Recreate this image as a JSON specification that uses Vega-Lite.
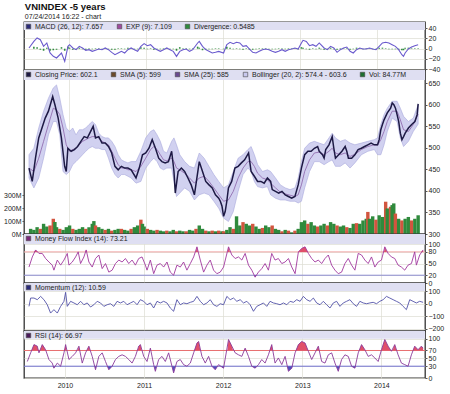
{
"$schema":"https://vega.github.io/schema/vega-lite/v6.json",
"background":"white",
"padding":{"left":2,"top":1,"right":2,"bottom":2},
"title":{"text":"VNINDEX -5 years","subtitle":"07/24/2014 16:22 -  chart","anchor":"start","dx":22,"font":"Liberation Sans","fontSize":9.5,"fontWeight":"bold","color":"#111","subtitleFont":"Liberation Sans","subtitleFontSize":7,"subtitleColor":"#222","subtitlePadding":2,"offset":1},
"spacing":0,
"bounds":"flush",
"resolve":{"scale":{"color":"independent"},"legend":{"color":"independent"}},
"config":{
 "font":"Liberation Sans",
 "view":{"stroke":"#333","strokeWidth":1.3,"fill":"#fdfde8"},
 "axis":{"labelFont":"Liberation Sans","labelFontSize":7,"labelColor":"#222","tickColor":"#555","tickSize":2,"labelPadding":1,"domain":false,"gridColor":"#dcdcd2","gridWidth":0.7},
 "axisX":{"grid":true,"labels":false,"ticks":false,"tickCount":5,"format":"d"},
 "axisY":{"grid":true},
 "legend":{"orient":"top-left","direction":"horizontal","offset":1,"padding":0,"labelFont":"Liberation Sans","labelFontSize":7,"labelColor":"#222","symbolType":"square","symbolSize":20,"symbolStrokeColor":"#444","symbolStrokeWidth":0.6,"columnPadding":12,"labelOffset":3,"labelLimit":300}
},
"datasets":{
"macd":[{"t":2009.483,"m":1.4,"d":0},{"t":2009.546,"m":14.4,"d":4},{"t":2009.588,"m":21,"d":3},{"t":2009.63,"m":17.7,"d":-2},{"t":2009.672,"m":4.6,"d":-4},{"t":2009.714,"m":11.2,"d":2},{"t":2009.756,"m":-8.4,"d":-4},{"t":2009.798,"m":-15,"d":-3},{"t":2009.84,"m":-18.2,"d":-2},{"t":2009.904,"m":-8.4,"d":3},{"t":2009.946,"m":-24.8,"d":-4},{"t":2009.988,"m":4.6,"d":4},{"t":2010.009,"m":7.9,"d":2},{"t":2010.051,"m":1.4,"d":-2},{"t":2010.093,"m":-1.9,"d":-1},{"t":2010.135,"m":4.6,"d":2},{"t":2010.177,"m":1.4,"d":-1},{"t":2010.219,"m":-3.2,"d":-2},{"t":2010.261,"m":-1.9,"d":1},{"t":2010.303,"m":-5.2,"d":-1},{"t":2010.345,"m":-3.2,"d":1},{"t":2010.387,"m":-0.6,"d":1},{"t":2010.429,"m":-1.9,"d":-1},{"t":2010.471,"m":1.4,"d":1},{"t":2010.513,"m":-1.9,"d":-1},{"t":2010.555,"m":-7.1,"d":-2},{"t":2010.597,"m":-11.7,"d":-2},{"t":2010.639,"m":-8.4,"d":1},{"t":2010.681,"m":-5.2,"d":1},{"t":2010.723,"m":-8.4,"d":-1},{"t":2010.765,"m":-1.9,"d":2},{"t":2010.807,"m":1.4,"d":1},{"t":2010.849,"m":-1.9,"d":-1},{"t":2010.891,"m":-5.2,"d":-1},{"t":2010.933,"m":4.6,"d":3},{"t":2010.975,"m":9.9,"d":2},{"t":2011.017,"m":5.9,"d":-1},{"t":2011.059,"m":7.9,"d":1},{"t":2011.101,"m":1.4,"d":-2},{"t":2011.143,"m":-1.9,"d":-1},{"t":2011.185,"m":-5.2,"d":-1},{"t":2011.227,"m":-1.9,"d":1},{"t":2011.269,"m":1.4,"d":1},{"t":2011.311,"m":-1.9,"d":-1},{"t":2011.353,"m":-5.2,"d":-1},{"t":2011.395,"m":-15,"d":-4},{"t":2011.437,"m":-5.2,"d":3},{"t":2011.479,"m":-1.9,"d":1},{"t":2011.521,"m":-0.6,"d":1},{"t":2011.564,"m":-5.2,"d":-1},{"t":2011.606,"m":-1.9,"d":1},{"t":2011.669,"m":11.2,"d":4},{"t":2011.69,"m":14.4,"d":2},{"t":2011.732,"m":4.6,"d":-3},{"t":2011.774,"m":-1.9,"d":-2},{"t":2011.816,"m":-5.2,"d":-1},{"t":2011.858,"m":-8.4,"d":-1},{"t":2011.9,"m":-7.1,"d":1},{"t":2011.942,"m":-5.2,"d":1},{"t":2012.005,"m":-8.4,"d":-1},{"t":2012.047,"m":7.9,"d":4},{"t":2012.089,"m":12.5,"d":2},{"t":2012.131,"m":9.9,"d":-1},{"t":2012.173,"m":12.5,"d":1},{"t":2012.215,"m":11.2,"d":-1},{"t":2012.257,"m":4.6,"d":-2},{"t":2012.299,"m":5.9,"d":1},{"t":2012.341,"m":-0.6,"d":-2},{"t":2012.383,"m":-7.1,"d":-2},{"t":2012.425,"m":-8.4,"d":-1},{"t":2012.467,"m":-5.2,"d":1},{"t":2012.509,"m":-1.9,"d":1},{"t":2012.551,"m":-0.6,"d":1},{"t":2012.593,"m":-1.9,"d":-1},{"t":2012.635,"m":-5.2,"d":-1},{"t":2012.677,"m":-7.1,"d":-1},{"t":2012.719,"m":-5.2,"d":1},{"t":2012.762,"m":-1.9,"d":1},{"t":2012.804,"m":-5.2,"d":-1},{"t":2012.846,"m":-1.9,"d":1},{"t":2012.888,"m":-0.6,"d":1},{"t":2012.93,"m":1.4,"d":1},{"t":2012.972,"m":-0.6,"d":-1},{"t":2013.014,"m":11.2,"d":3},{"t":2013.035,"m":16.4,"d":2},{"t":2013.077,"m":14.4,"d":-1},{"t":2013.119,"m":5.9,"d":-2},{"t":2013.161,"m":7.9,"d":1},{"t":2013.203,"m":4.6,"d":-1},{"t":2013.245,"m":11.2,"d":2},{"t":2013.266,"m":7.9,"d":-1},{"t":2013.308,"m":1.4,"d":-2},{"t":2013.35,"m":-1.9,"d":-1},{"t":2013.392,"m":4.6,"d":2},{"t":2013.434,"m":1.4,"d":-1},{"t":2013.476,"m":-7.1,"d":-2},{"t":2013.518,"m":-1.9,"d":1},{"t":2013.56,"m":1.4,"d":1},{"t":2013.602,"m":3.3,"d":1},{"t":2013.644,"m":-5.2,"d":-2},{"t":2013.686,"m":-8.4,"d":-1},{"t":2013.728,"m":-1.9,"d":2},{"t":2013.77,"m":1.4,"d":1},{"t":2013.812,"m":-0.6,"d":-1},{"t":2013.854,"m":-0.6,"d":1},{"t":2013.896,"m":1.4,"d":1},{"t":2013.938,"m":-0.6,"d":-1},{"t":2013.98,"m":-1.9,"d":-1},{"t":2014.022,"m":4.6,"d":2},{"t":2014.064,"m":11.2,"d":2},{"t":2014.106,"m":12.5,"d":1},{"t":2014.148,"m":11.2,"d":-1},{"t":2014.19,"m":7.9,"d":-1},{"t":2014.232,"m":4.6,"d":-1},{"t":2014.274,"m":-1.9,"d":-2},{"t":2014.316,"m":-11.7,"d":-3},{"t":2014.337,"m":-15,"d":-3},{"t":2014.358,"m":-8.4,"d":2},{"t":2014.4,"m":-0.6,"d":2},{"t":2014.442,"m":3.3,"d":1},{"t":2014.484,"m":5.9,"d":1},{"t":2014.527,"m":7.7,"d":1}],
"px":[{"t":2009.483,"c":453},{"t":2009.525,"c":422},{"t":2009.567,"c":476},{"t":2009.609,"c":523},{"t":2009.651,"c":546},{"t":2009.693,"c":569},{"t":2009.735,"c":585},{"t":2009.79,"c":619},{"t":2009.819,"c":600},{"t":2009.861,"c":569},{"t":2009.903,"c":523},{"t":2009.945,"c":457},{"t":2009.966,"c":445},{"t":2009.987,"c":499},{"t":2010.029,"c":492},{"t":2010.071,"c":496},{"t":2010.113,"c":503},{"t":2010.156,"c":515},{"t":2010.198,"c":526},{"t":2010.24,"c":523},{"t":2010.282,"c":538},{"t":2010.315,"c":550},{"t":2010.345,"c":523},{"t":2010.387,"c":526},{"t":2010.429,"c":511},{"t":2010.471,"c":511},{"t":2010.513,"c":503},{"t":2010.555,"c":488},{"t":2010.597,"c":457},{"t":2010.639,"c":449},{"t":2010.681,"c":457},{"t":2010.723,"c":453},{"t":2010.765,"c":453},{"t":2010.807,"c":449},{"t":2010.87,"c":430},{"t":2010.912,"c":453},{"t":2010.954,"c":484},{"t":2010.996,"c":488},{"t":2011.038,"c":499},{"t":2011.08,"c":519},{"t":2011.122,"c":499},{"t":2011.164,"c":476},{"t":2011.206,"c":468},{"t":2011.248,"c":465},{"t":2011.29,"c":468},{"t":2011.332,"c":492},{"t":2011.362,"c":445},{"t":2011.379,"c":395},{"t":2011.416,"c":445},{"t":2011.458,"c":453},{"t":2011.5,"c":445},{"t":2011.543,"c":430},{"t":2011.585,"c":414},{"t":2011.627,"c":391},{"t":2011.69,"c":468},{"t":2011.732,"c":445},{"t":2011.774,"c":422},{"t":2011.816,"c":414},{"t":2011.858,"c":407},{"t":2011.9,"c":391},{"t":2011.942,"c":383},{"t":2011.963,"c":376},{"t":2011.984,"c":365},{"t":2012.005,"c":341},{"t":2012.026,"c":352},{"t":2012.047,"c":376},{"t":2012.068,"c":407},{"t":2012.11,"c":422},{"t":2012.152,"c":453},{"t":2012.194,"c":457},{"t":2012.236,"c":465},{"t":2012.278,"c":472},{"t":2012.329,"c":488},{"t":2012.362,"c":445},{"t":2012.404,"c":434},{"t":2012.446,"c":422},{"t":2012.488,"c":422},{"t":2012.531,"c":418},{"t":2012.573,"c":430},{"t":2012.615,"c":422},{"t":2012.636,"c":403},{"t":2012.678,"c":399},{"t":2012.72,"c":395},{"t":2012.762,"c":399},{"t":2012.804,"c":391},{"t":2012.846,"c":387},{"t":2012.888,"c":383},{"t":2012.93,"c":387},{"t":2012.972,"c":414},{"t":2013.014,"c":453},{"t":2013.056,"c":484},{"t":2013.098,"c":492},{"t":2013.14,"c":492},{"t":2013.182,"c":499},{"t":2013.224,"c":503},{"t":2013.245,"c":492},{"t":2013.287,"c":484},{"t":2013.308,"c":476},{"t":2013.329,"c":496},{"t":2013.371,"c":507},{"t":2013.413,"c":526},{"t":2013.434,"c":499},{"t":2013.455,"c":476},{"t":2013.497,"c":484},{"t":2013.539,"c":492},{"t":2013.581,"c":503},{"t":2013.602,"c":492},{"t":2013.623,"c":476},{"t":2013.665,"c":476},{"t":2013.707,"c":484},{"t":2013.749,"c":496},{"t":2013.791,"c":499},{"t":2013.833,"c":503},{"t":2013.875,"c":507},{"t":2013.917,"c":511},{"t":2013.959,"c":507},{"t":2014.001,"c":507},{"t":2014.022,"c":519},{"t":2014.043,"c":542},{"t":2014.064,"c":554},{"t":2014.085,"c":565},{"t":2014.127,"c":581},{"t":2014.17,"c":592},{"t":2014.191,"c":604},{"t":2014.212,"c":600},{"t":2014.233,"c":592},{"t":2014.254,"c":577},{"t":2014.275,"c":561},{"t":2014.296,"c":534},{"t":2014.317,"c":519},{"t":2014.338,"c":526},{"t":2014.359,"c":534},{"t":2014.401,"c":546},{"t":2014.443,"c":554},{"t":2014.485,"c":561},{"t":2014.514,"c":577},{"t":2014.527,"c":602}],
"bb":[{"t":2009.483,"u":484,"l":430,"s":453},{"t":2009.546,"u":499,"l":407,"s":445},{"t":2009.609,"u":546,"l":430,"s":476},{"t":2009.672,"u":585,"l":476,"s":515},{"t":2009.735,"u":615,"l":530,"s":554},{"t":2009.798,"u":639,"l":561,"s":592},{"t":2009.84,"u":646,"l":561,"s":588},{"t":2009.882,"u":615,"l":530,"s":577},{"t":2009.924,"u":577,"l":445,"s":546},{"t":2009.966,"u":546,"l":438,"s":507},{"t":2010.008,"u":538,"l":445,"s":492},{"t":2010.05,"u":546,"l":461,"s":496},{"t":2010.092,"u":530,"l":468,"s":499},{"t":2010.135,"u":542,"l":476,"s":507},{"t":2010.177,"u":542,"l":484,"s":515},{"t":2010.219,"u":546,"l":492,"s":519},{"t":2010.261,"u":554,"l":499,"s":523},{"t":2010.303,"u":561,"l":503,"s":526},{"t":2010.345,"u":554,"l":499,"s":526},{"t":2010.387,"u":534,"l":499,"s":523},{"t":2010.429,"u":526,"l":496,"s":515},{"t":2010.471,"u":523,"l":496,"s":511},{"t":2010.513,"u":523,"l":476,"s":507},{"t":2010.555,"u":515,"l":453,"s":492},{"t":2010.597,"u":503,"l":438,"s":476},{"t":2010.639,"u":484,"l":430,"s":461},{"t":2010.681,"u":472,"l":438,"s":453},{"t":2010.723,"u":468,"l":438,"s":453},{"t":2010.765,"u":465,"l":434,"s":449},{"t":2010.807,"u":468,"l":430,"s":449},{"t":2010.87,"u":468,"l":418,"s":445},{"t":2010.933,"u":492,"l":422,"s":457},{"t":2010.996,"u":523,"l":453,"s":476},{"t":2011.059,"u":538,"l":468,"s":496},{"t":2011.101,"u":542,"l":476,"s":503},{"t":2011.143,"u":530,"l":468,"s":496},{"t":2011.185,"u":515,"l":453,"s":484},{"t":2011.227,"u":492,"l":449,"s":472},{"t":2011.269,"u":488,"l":453,"s":470},{"t":2011.332,"u":515,"l":453,"s":476},{"t":2011.362,"u":523,"l":422,"s":468},{"t":2011.395,"u":507,"l":387,"s":453},{"t":2011.437,"u":484,"l":395,"s":449},{"t":2011.5,"u":468,"l":407,"s":441},{"t":2011.564,"u":457,"l":399,"s":430},{"t":2011.627,"u":453,"l":379,"s":418},{"t":2011.69,"u":488,"l":391,"s":430},{"t":2011.753,"u":476,"l":395,"s":434},{"t":2011.816,"u":457,"l":391,"s":422},{"t":2011.879,"u":438,"l":376,"s":407},{"t":2011.942,"u":422,"l":360,"s":391},{"t":2012.005,"u":407,"l":337,"s":376},{"t":2012.068,"u":414,"l":329,"s":379},{"t":2012.131,"u":445,"l":352,"s":399},{"t":2012.194,"u":476,"l":399,"s":430},{"t":2012.257,"u":484,"l":438,"s":453},{"t":2012.32,"u":496,"l":453,"s":468},{"t":2012.362,"u":503,"l":445,"s":468},{"t":2012.404,"u":484,"l":422,"s":457},{"t":2012.446,"u":461,"l":410,"s":441},{"t":2012.509,"u":445,"l":407,"s":430},{"t":2012.573,"u":449,"l":410,"s":426},{"t":2012.615,"u":445,"l":391,"s":418},{"t":2012.678,"u":430,"l":383,"s":407},{"t":2012.741,"u":414,"l":379,"s":397},{"t":2012.804,"u":407,"l":379,"s":393},{"t":2012.867,"u":403,"l":376,"s":390},{"t":2012.93,"u":407,"l":376,"s":387},{"t":2012.972,"u":430,"l":372,"s":391},{"t":2013.014,"u":468,"l":376,"s":414},{"t":2013.056,"u":499,"l":407,"s":445},{"t":2013.119,"u":511,"l":445,"s":472},{"t":2013.182,"u":515,"l":468,"s":488},{"t":2013.245,"u":511,"l":468,"s":490},{"t":2013.308,"u":507,"l":461,"s":484},{"t":2013.371,"u":523,"l":468,"s":492},{"t":2013.413,"u":534,"l":472,"s":499},{"t":2013.455,"u":523,"l":457,"s":488},{"t":2013.518,"u":515,"l":457,"s":484},{"t":2013.581,"u":519,"l":465,"s":488},{"t":2013.644,"u":511,"l":453,"s":480},{"t":2013.707,"u":507,"l":465,"s":485},{"t":2013.791,"u":511,"l":484,"s":496},{"t":2013.875,"u":515,"l":492,"s":503},{"t":2013.959,"u":519,"l":496,"s":507},{"t":2014.001,"u":523,"l":484,"s":506},{"t":2014.043,"u":554,"l":484,"s":519},{"t":2014.085,"u":577,"l":507,"s":538},{"t":2014.127,"u":592,"l":538,"s":561},{"t":2014.191,"u":608,"l":569,"s":585},{"t":2014.254,"u":608,"l":561,"s":585},{"t":2014.296,"u":592,"l":523,"s":565},{"t":2014.338,"u":573,"l":503,"s":542},{"t":2014.401,"u":561,"l":515,"s":538},{"t":2014.464,"u":569,"l":538,"s":554},{"t":2014.527,"u":600,"l":555,"s":578}],
"vol":[{"t":2009.504,"v":40,"k":"u"},{"t":2009.546,"v":32,"k":"u"},{"t":2009.588,"v":53,"k":"u"},{"t":2009.63,"v":40,"k":"d"},{"t":2009.672,"v":79,"k":"u"},{"t":2009.714,"v":58,"k":"u"},{"t":2009.756,"v":66,"k":"d"},{"t":2009.798,"v":118,"k":"d"},{"t":2009.819,"v":92,"k":"u"},{"t":2009.84,"v":53,"k":"u"},{"t":2009.882,"v":40,"k":"d"},{"t":2009.925,"v":32,"k":"u"},{"t":2009.967,"v":53,"k":"u"},{"t":2010.009,"v":66,"k":"u"},{"t":2010.051,"v":40,"k":"d"},{"t":2010.093,"v":32,"k":"u"},{"t":2010.135,"v":40,"k":"u"},{"t":2010.177,"v":53,"k":"u"},{"t":2010.219,"v":40,"k":"d"},{"t":2010.261,"v":53,"k":"u"},{"t":2010.303,"v":79,"k":"u"},{"t":2010.324,"v":100,"k":"u"},{"t":2010.345,"v":66,"k":"d"},{"t":2010.387,"v":53,"k":"u"},{"t":2010.429,"v":40,"k":"u"},{"t":2010.471,"v":32,"k":"d"},{"t":2010.513,"v":40,"k":"u"},{"t":2010.555,"v":26,"k":"d"},{"t":2010.597,"v":32,"k":"u"},{"t":2010.639,"v":40,"k":"u"},{"t":2010.681,"v":40,"k":"d"},{"t":2010.723,"v":32,"k":"u"},{"t":2010.765,"v":26,"k":"u"},{"t":2010.807,"v":40,"k":"d"},{"t":2010.849,"v":53,"k":"u"},{"t":2010.891,"v":66,"k":"u"},{"t":2010.933,"v":111,"k":"d"},{"t":2010.954,"v":79,"k":"u"},{"t":2010.975,"v":58,"k":"u"},{"t":2011.017,"v":40,"k":"d"},{"t":2011.059,"v":32,"k":"u"},{"t":2011.101,"v":26,"k":"u"},{"t":2011.143,"v":32,"k":"d"},{"t":2011.185,"v":26,"k":"u"},{"t":2011.227,"v":21,"k":"u"},{"t":2011.269,"v":26,"k":"d"},{"t":2011.311,"v":21,"k":"u"},{"t":2011.353,"v":32,"k":"u"},{"t":2011.395,"v":21,"k":"d"},{"t":2011.437,"v":26,"k":"u"},{"t":2011.479,"v":21,"k":"u"},{"t":2011.521,"v":21,"k":"d"},{"t":2011.564,"v":32,"k":"u"},{"t":2011.606,"v":26,"k":"u"},{"t":2011.648,"v":40,"k":"d"},{"t":2011.69,"v":66,"k":"u"},{"t":2011.732,"v":40,"k":"u"},{"t":2011.774,"v":26,"k":"d"},{"t":2011.816,"v":21,"k":"u"},{"t":2011.858,"v":26,"k":"d"},{"t":2011.9,"v":21,"k":"u"},{"t":2011.942,"v":26,"k":"d"},{"t":2011.984,"v":21,"k":"u"},{"t":2012.005,"v":21,"k":"d"},{"t":2012.047,"v":32,"k":"u"},{"t":2012.089,"v":53,"k":"u"},{"t":2012.131,"v":40,"k":"d"},{"t":2012.173,"v":137,"k":"u"},{"t":2012.215,"v":66,"k":"u"},{"t":2012.257,"v":92,"k":"d"},{"t":2012.299,"v":79,"k":"u"},{"t":2012.341,"v":66,"k":"u"},{"t":2012.383,"v":79,"k":"d"},{"t":2012.425,"v":58,"k":"u"},{"t":2012.467,"v":40,"k":"u"},{"t":2012.509,"v":47,"k":"d"},{"t":2012.551,"v":66,"k":"u"},{"t":2012.593,"v":53,"k":"u"},{"t":2012.635,"v":66,"k":"d"},{"t":2012.677,"v":40,"k":"u"},{"t":2012.719,"v":32,"k":"u"},{"t":2012.762,"v":21,"k":"d"},{"t":2012.804,"v":32,"k":"u"},{"t":2012.846,"v":26,"k":"d"},{"t":2012.888,"v":13,"k":"u"},{"t":2012.93,"v":26,"k":"d"},{"t":2012.972,"v":40,"k":"u"},{"t":2013.014,"v":92,"k":"u"},{"t":2013.056,"v":105,"k":"u"},{"t":2013.098,"v":79,"k":"d"},{"t":2013.14,"v":92,"k":"u"},{"t":2013.182,"v":66,"k":"u"},{"t":2013.224,"v":58,"k":"d"},{"t":2013.266,"v":66,"k":"u"},{"t":2013.308,"v":79,"k":"u"},{"t":2013.35,"v":66,"k":"d"},{"t":2013.392,"v":92,"k":"u"},{"t":2013.434,"v":79,"k":"u"},{"t":2013.476,"v":66,"k":"d"},{"t":2013.518,"v":58,"k":"u"},{"t":2013.56,"v":66,"k":"u"},{"t":2013.602,"v":53,"k":"d"},{"t":2013.644,"v":47,"k":"u"},{"t":2013.686,"v":79,"k":"u"},{"t":2013.728,"v":84,"k":"d"},{"t":2013.77,"v":79,"k":"u"},{"t":2013.812,"v":105,"k":"u"},{"t":2013.854,"v":118,"k":"u"},{"t":2013.875,"v":171,"k":"d"},{"t":2013.896,"v":118,"k":"u"},{"t":2013.938,"v":137,"k":"u"},{"t":2013.98,"v":111,"k":"d"},{"t":2014.022,"v":145,"k":"u"},{"t":2014.064,"v":132,"k":"u"},{"t":2014.106,"v":250,"k":"d"},{"t":2014.127,"v":198,"k":"u"},{"t":2014.148,"v":145,"k":"u"},{"t":2014.169,"v":211,"k":"d"},{"t":2014.19,"v":224,"k":"u"},{"t":2014.211,"v":237,"k":"u"},{"t":2014.232,"v":158,"k":"d"},{"t":2014.274,"v":118,"k":"u"},{"t":2014.316,"v":105,"k":"d"},{"t":2014.358,"v":118,"k":"u"},{"t":2014.4,"v":132,"k":"u"},{"t":2014.442,"v":105,"k":"d"},{"t":2014.484,"v":118,"k":"u"},{"t":2014.527,"v":145,"k":"u"}],
"mfi":[{"t":2009.546,"v":41},{"t":2009.588,"v":67},{"t":2009.63,"v":85},{"t":2009.672,"v":76},{"t":2009.714,"v":76},{"t":2009.756,"v":63},{"t":2009.798,"v":54},{"t":2009.84,"v":46},{"t":2009.861,"v":33},{"t":2009.904,"v":59},{"t":2009.946,"v":46},{"t":2009.988,"v":59},{"t":2010.03,"v":76},{"t":2010.051,"v":46},{"t":2010.093,"v":54},{"t":2010.135,"v":67},{"t":2010.168,"v":80},{"t":2010.198,"v":50},{"t":2010.24,"v":67},{"t":2010.269,"v":85},{"t":2010.303,"v":54},{"t":2010.345,"v":41},{"t":2010.387,"v":63},{"t":2010.429,"v":72},{"t":2010.471,"v":37},{"t":2010.513,"v":50},{"t":2010.555,"v":28},{"t":2010.597,"v":33},{"t":2010.639,"v":50},{"t":2010.681,"v":59},{"t":2010.723,"v":54},{"t":2010.765,"v":63},{"t":2010.807,"v":50},{"t":2010.849,"v":59},{"t":2010.891,"v":46},{"t":2010.933,"v":63},{"t":2010.975,"v":67},{"t":2011.017,"v":46},{"t":2011.038,"v":33},{"t":2011.08,"v":59},{"t":2011.122,"v":24},{"t":2011.164,"v":46},{"t":2011.206,"v":50},{"t":2011.248,"v":41},{"t":2011.29,"v":54},{"t":2011.332,"v":28},{"t":2011.374,"v":20},{"t":2011.416,"v":46},{"t":2011.458,"v":41},{"t":2011.5,"v":54},{"t":2011.542,"v":33},{"t":2011.585,"v":50},{"t":2011.627,"v":67},{"t":2011.669,"v":93},{"t":2011.711,"v":59},{"t":2011.753,"v":28},{"t":2011.795,"v":46},{"t":2011.837,"v":59},{"t":2011.879,"v":33},{"t":2011.921,"v":24},{"t":2011.963,"v":28},{"t":2012.005,"v":41},{"t":2012.068,"v":93},{"t":2012.11,"v":72},{"t":2012.152,"v":63},{"t":2012.194,"v":67},{"t":2012.236,"v":59},{"t":2012.278,"v":76},{"t":2012.32,"v":46},{"t":2012.362,"v":33},{"t":2012.404,"v":15},{"t":2012.446,"v":28},{"t":2012.488,"v":37},{"t":2012.53,"v":50},{"t":2012.572,"v":33},{"t":2012.614,"v":76},{"t":2012.656,"v":59},{"t":2012.698,"v":63},{"t":2012.741,"v":50},{"t":2012.783,"v":54},{"t":2012.825,"v":63},{"t":2012.867,"v":41},{"t":2012.909,"v":24},{"t":2012.951,"v":80},{"t":2012.993,"v":89},{"t":2013.035,"v":93},{"t":2013.077,"v":76},{"t":2013.119,"v":63},{"t":2013.161,"v":54},{"t":2013.203,"v":59},{"t":2013.245,"v":50},{"t":2013.287,"v":63},{"t":2013.329,"v":72},{"t":2013.371,"v":46},{"t":2013.413,"v":33},{"t":2013.455,"v":24},{"t":2013.497,"v":28},{"t":2013.539,"v":50},{"t":2013.581,"v":63},{"t":2013.623,"v":46},{"t":2013.665,"v":33},{"t":2013.707,"v":76},{"t":2013.749,"v":72},{"t":2013.791,"v":59},{"t":2013.833,"v":50},{"t":2013.875,"v":67},{"t":2013.917,"v":41},{"t":2013.959,"v":54},{"t":2014.001,"v":59},{"t":2014.043,"v":93},{"t":2014.085,"v":76},{"t":2014.127,"v":67},{"t":2014.169,"v":63},{"t":2014.211,"v":46},{"t":2014.253,"v":41},{"t":2014.295,"v":33},{"t":2014.337,"v":46},{"t":2014.379,"v":50},{"t":2014.421,"v":80},{"t":2014.442,"v":46},{"t":2014.484,"v":72},{"t":2014.527,"v":85}],
"mfHi":[{"t":2009.608,"v":80,"g":1},{"t":2009.63,"v":85,"g":1},{"t":2009.655,"v":80,"g":1},{"t":2010.257,"v":80,"g":2},{"t":2010.269,"v":85,"g":2},{"t":2010.275,"v":80,"g":2},{"t":2011.653,"v":80,"g":3},{"t":2011.669,"v":93,"g":3},{"t":2011.683,"v":80,"g":3},{"t":2012.058,"v":80,"g":4},{"t":2012.068,"v":93,"g":4},{"t":2012.085,"v":80,"g":4},{"t":2012.951,"v":80,"g":5},{"t":2012.993,"v":89,"g":5},{"t":2013.035,"v":93,"g":5},{"t":2013.07,"v":80,"g":5},{"t":2014.033,"v":80,"g":6},{"t":2014.043,"v":93,"g":6},{"t":2014.07,"v":80,"g":6},{"t":2014.505,"v":80,"g":7},{"t":2014.527,"v":85,"g":7}],
"mfLo":[{"t":2012.39,"v":20,"g":1},{"t":2012.404,"v":15,"g":1},{"t":2012.42,"v":20,"g":1}],
"mom":[{"t":2009.546,"v":-21},{"t":2009.567,"v":45},{"t":2009.609,"v":45},{"t":2009.651,"v":32},{"t":2009.693,"v":58},{"t":2009.735,"v":32},{"t":2009.777,"v":-8},{"t":2009.819,"v":-74},{"t":2009.861,"v":-47},{"t":2009.904,"v":-74},{"t":2009.946,"v":-21},{"t":2009.988,"v":19},{"t":2010.009,"v":90},{"t":2010.03,"v":-21},{"t":2010.072,"v":19},{"t":2010.114,"v":6},{"t":2010.156,"v":-8},{"t":2010.198,"v":19},{"t":2010.24,"v":-8},{"t":2010.282,"v":6},{"t":2010.324,"v":-26},{"t":2010.366,"v":-8},{"t":2010.408,"v":19},{"t":2010.45,"v":6},{"t":2010.492,"v":-21},{"t":2010.534,"v":-8},{"t":2010.576,"v":0},{"t":2010.618,"v":-21},{"t":2010.66,"v":19},{"t":2010.702,"v":6},{"t":2010.744,"v":19},{"t":2010.786,"v":-8},{"t":2010.828,"v":6},{"t":2010.87,"v":19},{"t":2010.912,"v":-8},{"t":2010.954,"v":32},{"t":2010.996,"v":19},{"t":2011.038,"v":-8},{"t":2011.08,"v":6},{"t":2011.122,"v":-34},{"t":2011.164,"v":19},{"t":2011.206,"v":6},{"t":2011.248,"v":19},{"t":2011.29,"v":6},{"t":2011.332,"v":-34},{"t":2011.374,"v":-60},{"t":2011.416,"v":32},{"t":2011.458,"v":-8},{"t":2011.5,"v":6},{"t":2011.542,"v":0},{"t":2011.585,"v":11},{"t":2011.627,"v":19},{"t":2011.669,"v":58},{"t":2011.711,"v":19},{"t":2011.753,"v":-8},{"t":2011.795,"v":6},{"t":2011.837,"v":32},{"t":2011.879,"v":-8},{"t":2011.921,"v":-21},{"t":2011.963,"v":0},{"t":2012.005,"v":-8},{"t":2012.047,"v":58},{"t":2012.089,"v":32},{"t":2012.131,"v":45},{"t":2012.173,"v":19},{"t":2012.215,"v":32},{"t":2012.257,"v":6},{"t":2012.299,"v":19},{"t":2012.341,"v":-8},{"t":2012.383,"v":-60},{"t":2012.425,"v":-21},{"t":2012.467,"v":-8},{"t":2012.509,"v":6},{"t":2012.551,"v":-21},{"t":2012.593,"v":19},{"t":2012.635,"v":6},{"t":2012.677,"v":0},{"t":2012.719,"v":-8},{"t":2012.762,"v":6},{"t":2012.804,"v":-8},{"t":2012.846,"v":19},{"t":2012.888,"v":11},{"t":2012.93,"v":32},{"t":2012.972,"v":19},{"t":2013.014,"v":58},{"t":2013.056,"v":32},{"t":2013.098,"v":19},{"t":2013.14,"v":45},{"t":2013.182,"v":6},{"t":2013.224,"v":-8},{"t":2013.266,"v":19},{"t":2013.308,"v":-8},{"t":2013.35,"v":-34},{"t":2013.392,"v":6},{"t":2013.434,"v":19},{"t":2013.476,"v":-21},{"t":2013.518,"v":6},{"t":2013.56,"v":19},{"t":2013.602,"v":32},{"t":2013.644,"v":0},{"t":2013.686,"v":-21},{"t":2013.728,"v":19},{"t":2013.77,"v":6},{"t":2013.812,"v":0},{"t":2013.854,"v":6},{"t":2013.896,"v":11},{"t":2013.938,"v":0},{"t":2013.98,"v":19},{"t":2014.022,"v":32},{"t":2014.064,"v":58},{"t":2014.106,"v":45},{"t":2014.148,"v":32},{"t":2014.19,"v":19},{"t":2014.232,"v":6},{"t":2014.274,"v":-21},{"t":2014.316,"v":-47},{"t":2014.358,"v":32},{"t":2014.4,"v":19},{"t":2014.442,"v":6},{"t":2014.484,"v":19},{"t":2014.527,"v":11}],
"rsi":[{"t":2009.525,"v":42},{"t":2009.567,"v":64},{"t":2009.609,"v":85},{"t":2009.651,"v":81},{"t":2009.672,"v":64},{"t":2009.714,"v":85},{"t":2009.756,"v":72},{"t":2009.798,"v":47},{"t":2009.84,"v":38},{"t":2009.861,"v":25},{"t":2009.904,"v":38},{"t":2009.946,"v":30},{"t":2009.988,"v":64},{"t":2010.009,"v":85},{"t":2010.051,"v":47},{"t":2010.093,"v":55},{"t":2010.135,"v":64},{"t":2010.177,"v":81},{"t":2010.219,"v":38},{"t":2010.261,"v":64},{"t":2010.303,"v":81},{"t":2010.345,"v":55},{"t":2010.387,"v":21},{"t":2010.429,"v":55},{"t":2010.471,"v":64},{"t":2010.513,"v":42},{"t":2010.555,"v":21},{"t":2010.597,"v":30},{"t":2010.639,"v":47},{"t":2010.681,"v":55},{"t":2010.723,"v":59},{"t":2010.765,"v":55},{"t":2010.807,"v":47},{"t":2010.849,"v":38},{"t":2010.891,"v":55},{"t":2010.933,"v":81},{"t":2010.954,"v":85},{"t":2010.996,"v":55},{"t":2011.038,"v":42},{"t":2011.08,"v":76},{"t":2011.122,"v":34},{"t":2011.143,"v":17},{"t":2011.185,"v":47},{"t":2011.227,"v":55},{"t":2011.269,"v":42},{"t":2011.311,"v":64},{"t":2011.353,"v":30},{"t":2011.374,"v":13},{"t":2011.416,"v":42},{"t":2011.458,"v":47},{"t":2011.5,"v":34},{"t":2011.542,"v":30},{"t":2011.585,"v":38},{"t":2011.627,"v":64},{"t":2011.669,"v":89},{"t":2011.69,"v":93},{"t":2011.732,"v":55},{"t":2011.774,"v":38},{"t":2011.816,"v":55},{"t":2011.858,"v":30},{"t":2011.9,"v":21},{"t":2011.942,"v":34},{"t":2012.005,"v":25},{"t":2012.068,"v":98},{"t":2012.11,"v":81},{"t":2012.152,"v":64},{"t":2012.194,"v":59},{"t":2012.236,"v":55},{"t":2012.278,"v":76},{"t":2012.32,"v":55},{"t":2012.362,"v":30},{"t":2012.404,"v":25},{"t":2012.446,"v":34},{"t":2012.488,"v":47},{"t":2012.53,"v":38},{"t":2012.572,"v":59},{"t":2012.614,"v":85},{"t":2012.656,"v":38},{"t":2012.698,"v":51},{"t":2012.741,"v":34},{"t":2012.783,"v":55},{"t":2012.825,"v":17},{"t":2012.867,"v":25},{"t":2012.909,"v":64},{"t":2012.951,"v":85},{"t":2012.993,"v":93},{"t":2013.035,"v":89},{"t":2013.077,"v":68},{"t":2013.119,"v":47},{"t":2013.161,"v":64},{"t":2013.203,"v":81},{"t":2013.245,"v":42},{"t":2013.287,"v":38},{"t":2013.329,"v":59},{"t":2013.371,"v":64},{"t":2013.413,"v":38},{"t":2013.455,"v":17},{"t":2013.497,"v":47},{"t":2013.539,"v":59},{"t":2013.581,"v":55},{"t":2013.623,"v":30},{"t":2013.665,"v":25},{"t":2013.707,"v":64},{"t":2013.749,"v":85},{"t":2013.791,"v":72},{"t":2013.833,"v":55},{"t":2013.875,"v":59},{"t":2013.917,"v":51},{"t":2013.959,"v":42},{"t":2014.001,"v":72},{"t":2014.043,"v":98},{"t":2014.085,"v":81},{"t":2014.127,"v":68},{"t":2014.169,"v":85},{"t":2014.211,"v":59},{"t":2014.253,"v":38},{"t":2014.295,"v":34},{"t":2014.337,"v":30},{"t":2014.379,"v":59},{"t":2014.421,"v":81},{"t":2014.463,"v":72},{"t":2014.505,"v":81},{"t":2014.527,"v":76}],
"rsHi":[{"t":2009.579,"v":70,"g":1},{"t":2009.609,"v":85,"g":1},{"t":2009.651,"v":81,"g":1},{"t":2009.665,"v":70,"g":1},{"t":2009.684,"v":70,"g":2},{"t":2009.714,"v":85,"g":2},{"t":2009.756,"v":72,"g":2},{"t":2009.759,"v":70,"g":2},{"t":2009.995,"v":70,"g":3},{"t":2010.009,"v":85,"g":3},{"t":2010.02,"v":70,"g":3},{"t":2010.161,"v":70,"g":4},{"t":2010.177,"v":81,"g":4},{"t":2010.19,"v":70,"g":4},{"t":2010.277,"v":70,"g":5},{"t":2010.303,"v":81,"g":5},{"t":2010.318,"v":70,"g":5},{"t":2010.918,"v":70,"g":6},{"t":2010.933,"v":81,"g":6},{"t":2010.954,"v":85,"g":6},{"t":2010.971,"v":70,"g":6},{"t":2011.071,"v":70,"g":7},{"t":2011.08,"v":76,"g":7},{"t":2011.087,"v":70,"g":7},{"t":2011.635,"v":70,"g":8},{"t":2011.669,"v":89,"g":8},{"t":2011.69,"v":93,"g":8},{"t":2011.712,"v":70,"g":8},{"t":2012.053,"v":70,"g":9},{"t":2012.068,"v":98,"g":9},{"t":2012.11,"v":81,"g":9},{"t":2012.126,"v":70,"g":9},{"t":2012.266,"v":70,"g":10},{"t":2012.278,"v":76,"g":10},{"t":2012.29,"v":70,"g":10},{"t":2012.588,"v":70,"g":11},{"t":2012.614,"v":85,"g":11},{"t":2012.624,"v":70,"g":11},{"t":2012.919,"v":70,"g":12},{"t":2012.951,"v":85,"g":12},{"t":2012.993,"v":93,"g":12},{"t":2013.035,"v":89,"g":12},{"t":2013.073,"v":70,"g":12},{"t":2013.177,"v":70,"g":13},{"t":2013.203,"v":81,"g":13},{"t":2013.214,"v":70,"g":13},{"t":2013.719,"v":70,"g":14},{"t":2013.749,"v":85,"g":14},{"t":2013.791,"v":72,"g":14},{"t":2013.796,"v":70,"g":14},{"t":2013.996,"v":70,"g":15},{"t":2014.001,"v":72,"g":15},{"t":2014.043,"v":98,"g":15},{"t":2014.085,"v":81,"g":15},{"t":2014.12,"v":70,"g":15},{"t":2014.14,"v":70,"g":16},{"t":2014.169,"v":85,"g":16},{"t":2014.19,"v":70,"g":16},{"t":2014.4,"v":70,"g":17},{"t":2014.421,"v":81,"g":17},{"t":2014.463,"v":72,"g":17},{"t":2014.505,"v":81,"g":17},{"t":2014.527,"v":76,"g":17}],
"rsLo":[{"t":2009.851,"v":30,"g":1},{"t":2009.861,"v":25,"g":1},{"t":2009.873,"v":30,"g":1},{"t":2010.378,"v":30,"g":2},{"t":2010.387,"v":21,"g":2},{"t":2010.397,"v":30,"g":2},{"t":2010.538,"v":30,"g":3},{"t":2010.555,"v":21,"g":3},{"t":2010.597,"v":30,"g":3},{"t":2011.127,"v":30,"g":4},{"t":2011.143,"v":17,"g":4},{"t":2011.155,"v":30,"g":4},{"t":2011.353,"v":30,"g":5},{"t":2011.374,"v":13,"g":5},{"t":2011.397,"v":30,"g":5},{"t":2011.858,"v":30,"g":6},{"t":2011.9,"v":21,"g":6},{"t":2011.93,"v":30,"g":6},{"t":2011.97,"v":30,"g":7},{"t":2012.005,"v":25,"g":7},{"t":2012.01,"v":30,"g":7},{"t":2012.362,"v":30,"g":8},{"t":2012.404,"v":25,"g":8},{"t":2012.43,"v":30,"g":8},{"t":2012.81,"v":30,"g":9},{"t":2012.825,"v":17,"g":9},{"t":2012.867,"v":25,"g":9},{"t":2012.88,"v":30,"g":9},{"t":2013.43,"v":30,"g":10},{"t":2013.455,"v":17,"g":10},{"t":2013.47,"v":30,"g":10},{"t":2013.623,"v":30,"g":11},{"t":2013.665,"v":25,"g":11},{"t":2013.675,"v":30,"g":11}]
},
"vconcat":[
{"height":48,"width":401,"layer":[
 {"data":{"name":"macd"},"mark":{"type":"bar","color":"#2e8b3e","size":1.6},"encoding":{"x":{"field":"t","type":"quantitative","title":null,"scale":{"domain":[2009.483,2014.551],"nice":false,"zero":false}},"y":{"field":"d","type":"quantitative","title":null,"scale":{"domain":[-41.7,52.3],"nice":false},"axis":{"orient":"right","values":[-40,-20,0,20,40]}}}},
 {"data":{"name":"macd"},"mark":{"type":"line","color":"#6a5acd","strokeWidth":1.1},"encoding":{"x":{"field":"t","type":"quantitative","title":null,"scale":{"domain":[2009.483,2014.551],"nice":false,"zero":false}},"y":{"field":"m","type":"quantitative","title":null,"axis":{"orient":"right","values":[-40,-20,0,20,40]}}}},
 {"data":{"values":[{}]},"mark":{"type":"rect","color":"#dfdff2"},"encoding":{"y":{"datum":36.7,"title":null,"axis":{"orient":"right","values":[-40,-20,0,20,40]}},"y2":{"datum":52.3}}},
 {"data":{"values":[]},"mark":{"type":"square","opacity":1},"encoding":{"color":{"field":"k","type":"nominal","scale":{"domain":["MACD (26, 12): 7.657","EXP (9): 7.109","Divergence: 0.5485"],"range":["#2b2b7a","#a04aa0","#2e8b3e"]},"legend":{"title":null}}}}
]},
{"height":164,"width":401,"resolve":{"scale":{"y":"independent"}},"layer":[
 {"data":{"name":"vol"},"mark":{"type":"bar","size":3.4},"encoding":{"x":{"field":"t","type":"quantitative","title":null,"scale":{"domain":[2009.483,2014.551],"nice":false,"zero":false}},"y":{"field":"v","type":"quantitative","title":null,"scale":{"domain":[0,1270],"nice":false},"axis":{"orient":"left","values":[0,100,200,300],"labelExpr":"datum.value + 'M'","grid":false}},"color":{"condition":{"test":"datum.k == 'd'","value":"#d2553f"},"value":"#2f8a3c"}}},
 {"layer":[
  {"data":{"name":"bb"},"mark":{"type":"area","color":"#c9c9ee","stroke":"#9a9ad6","strokeWidth":0.6,"opacity":0.85},"encoding":{"x":{"field":"t","type":"quantitative","title":null,"scale":{"domain":[2009.483,2014.551],"nice":false,"zero":false}},"y":{"field":"u","type":"quantitative","title":null,"scale":{"domain":[300,680.6],"nice":false,"zero":false},"axis":{"orient":"right","values":[300,350,400,450,500,550,600,650]}},"y2":{"field":"l"}}},
  {"data":{"name":"bb"},"mark":{"type":"line","color":"#8a62a8","strokeWidth":0.8},"encoding":{"x":{"field":"t","type":"quantitative","title":null,"scale":{"domain":[2009.483,2014.551],"nice":false,"zero":false}},"y":{"field":"s","type":"quantitative","title":null,"axis":{"orient":"right","values":[300,350,400,450,500,550,600,650]}}}},
  {"data":{"name":"px"},"mark":{"type":"line","color":"#1d1944","strokeWidth":1.5},"encoding":{"x":{"field":"t","type":"quantitative","title":null,"scale":{"domain":[2009.483,2014.551],"nice":false,"zero":false}},"y":{"field":"c","type":"quantitative","title":null,"axis":{"orient":"right","values":[300,350,400,450,500,550,600,650]}}}},
  {"data":{"values":[{}]},"mark":{"type":"rect","color":"#dfdff2"},"encoding":{"y":{"datum":657.4,"title":null,"axis":{"orient":"right","values":[300,350,400,450,500,550,600,650]}},"y2":{"datum":680.6}}},
  {"data":{"values":[]},"mark":{"type":"square","opacity":1},"encoding":{"color":{"field":"k","type":"nominal","scale":{"domain":["Closing Price: 602.1","SMA (5): 599","SMA (25): 585","Bollinger (20, 2): 574.4 - 603.6","Vol: 84.77M"],"range":["#1d1944","#6b4a2a","#6a4a90","#c9c9ee","#1f6e30"]},"legend":{"title":null}}}}
 ]}
]},
{"height":49,"width":401,"layer":[
 {"data":{"values":[{}]},"mark":{"type":"rule","color":"#f0a6a6","strokeWidth":1},"encoding":{"y":{"datum":80,"title":null,"scale":{"domain":[0,126],"nice":false},"axis":{"orient":"right","values":[0,20,50,80,100],"encode":{"labels":{"update":{"fill":{"signal":"datum.value == 80 ? '#e06a6a' : datum.value == 20 ? '#6a6ad0' : '#222'"}}}}}}}},
 {"data":{"values":[{}]},"mark":{"type":"rule","color":"#8c8cd0","strokeWidth":1},"encoding":{"y":{"datum":20,"title":null,"axis":{"orient":"right","values":[0,20,50,80,100],"encode":{"labels":{"update":{"fill":{"signal":"datum.value == 80 ? '#e06a6a' : datum.value == 20 ? '#6a6ad0' : '#222'"}}}}}}}},
 {"data":{"name":"mfHi"},"mark":{"type":"area","color":"#e0506a"},"encoding":{"x":{"field":"t","type":"quantitative","title":null,"scale":{"domain":[2009.483,2014.551],"nice":false,"zero":false}},"y":{"field":"v","type":"quantitative","title":null,"axis":{"orient":"right","values":[0,20,50,80,100],"encode":{"labels":{"update":{"fill":{"signal":"datum.value == 80 ? '#e06a6a' : datum.value == 20 ? '#6a6ad0' : '#222'"}}}}}},"y2":{"datum":80},"detail":{"field":"g"}}},
 {"data":{"name":"mfLo"},"mark":{"type":"area","color":"#5050c0"},"encoding":{"x":{"field":"t","type":"quantitative","title":null,"scale":{"domain":[2009.483,2014.551],"nice":false,"zero":false}},"y":{"field":"v","type":"quantitative","title":null,"axis":{"orient":"right","values":[0,20,50,80,100],"encode":{"labels":{"update":{"fill":{"signal":"datum.value == 80 ? '#e06a6a' : datum.value == 20 ? '#6a6ad0' : '#222'"}}}}}},"y2":{"datum":20},"detail":{"field":"g"}}},
 {"data":{"name":"mfi"},"mark":{"type":"line","color":"#a0389e","strokeWidth":0.9},"encoding":{"x":{"field":"t","type":"quantitative","title":null,"scale":{"domain":[2009.483,2014.551],"nice":false,"zero":false}},"y":{"field":"v","type":"quantitative","title":null,"axis":{"orient":"right","values":[0,20,50,80,100],"encode":{"labels":{"update":{"fill":{"signal":"datum.value == 80 ? '#e06a6a' : datum.value == 20 ? '#6a6ad0' : '#222'"}}}}}}}},
 {"data":{"values":[{}]},"mark":{"type":"rect","color":"#dfdff2"},"encoding":{"y":{"datum":100,"title":null,"axis":{"orient":"right","values":[0,20,50,80,100],"encode":{"labels":{"update":{"fill":{"signal":"datum.value == 80 ? '#e06a6a' : datum.value == 20 ? '#6a6ad0' : '#222'"}}}}}},"y2":{"datum":126}}},
 {"data":{"values":[]},"mark":{"type":"square","opacity":1},"encoding":{"color":{"field":"k","type":"nominal","scale":{"domain":["Money Flow Index (14): 73.21"],"range":["#7a2a7a"]},"legend":{"title":null}}}}
]},
{"height":48,"width":401,"layer":[
 {"data":{"name":"mom"},"mark":{"type":"line","color":"#5252a8","strokeWidth":0.9},"encoding":{"x":{"field":"t","type":"quantitative","title":null,"scale":{"domain":[2009.483,2014.551],"nice":false,"zero":false}},"y":{"field":"v","type":"quantitative","title":null,"scale":{"domain":[-216,164],"nice":false},"axis":{"orient":"right","values":[-200,-100,0,100]}}}},
 {"data":{"values":[{}]},"mark":{"type":"rect","color":"#dfdff2"},"encoding":{"y":{"datum":100,"title":null,"axis":{"orient":"right","values":[-200,-100,0,100]}},"y2":{"datum":164}}},
 {"data":{"values":[]},"mark":{"type":"square","opacity":1},"encoding":{"color":{"field":"k","type":"nominal","scale":{"domain":["Momentum (12): 10.59"],"range":["#2a2a7a"]},"legend":{"title":null}}}}
]},
{"height":47,"width":401,"layer":[
 {"data":{"values":[{}]},"mark":{"type":"rule","color":"#e87070","strokeWidth":1},"encoding":{"y":{"datum":70,"title":null,"scale":{"domain":[0,119.6],"nice":false},"axis":{"orient":"right","values":[0,30,50,70,100],"encode":{"labels":{"update":{"fill":{"signal":"datum.value == 70 ? '#e06a6a' : datum.value == 30 ? '#6a6ad0' : '#222'"}}}}}}}},
 {"data":{"values":[{}]},"mark":{"type":"rule","color":"#7070d0","strokeWidth":1},"encoding":{"y":{"datum":30,"title":null,"axis":{"orient":"right","values":[0,30,50,70,100],"encode":{"labels":{"update":{"fill":{"signal":"datum.value == 70 ? '#e06a6a' : datum.value == 30 ? '#6a6ad0' : '#222'"}}}}}}}},
 {"data":{"name":"rsHi"},"mark":{"type":"area","color":"#e0506a"},"encoding":{"x":{"field":"t","type":"quantitative","title":null,"scale":{"domain":[2009.483,2014.551],"nice":false,"zero":false}},"y":{"field":"v","type":"quantitative","title":null,"axis":{"orient":"right","values":[0,30,50,70,100],"encode":{"labels":{"update":{"fill":{"signal":"datum.value == 70 ? '#e06a6a' : datum.value == 30 ? '#6a6ad0' : '#222'"}}}}}},"y2":{"datum":70},"detail":{"field":"g"}}},
 {"data":{"name":"rsLo"},"mark":{"type":"area","color":"#5050c0"},"encoding":{"x":{"field":"t","type":"quantitative","title":null,"scale":{"domain":[2009.483,2014.551],"nice":false,"zero":false}},"y":{"field":"v","type":"quantitative","title":null,"axis":{"orient":"right","values":[0,30,50,70,100],"encode":{"labels":{"update":{"fill":{"signal":"datum.value == 70 ? '#e06a6a' : datum.value == 30 ? '#6a6ad0' : '#222'"}}}}}},"y2":{"datum":30},"detail":{"field":"g"}}},
 {"data":{"name":"rsi"},"mark":{"type":"line","color":"#8a3a9a","strokeWidth":0.9},"encoding":{"x":{"field":"t","type":"quantitative","title":null,"scale":{"domain":[2009.483,2014.551],"nice":false,"zero":false},"axis":{"labels":true,"labelPadding":3}},"y":{"field":"v","type":"quantitative","title":null,"axis":{"orient":"right","values":[0,30,50,70,100],"encode":{"labels":{"update":{"fill":{"signal":"datum.value == 70 ? '#e06a6a' : datum.value == 30 ? '#6a6ad0' : '#222'"}}}}}}}},
 {"data":{"values":[{}]},"mark":{"type":"rect","color":"#dfdff2"},"encoding":{"y":{"datum":100,"title":null,"axis":{"orient":"right","values":[0,30,50,70,100],"encode":{"labels":{"update":{"fill":{"signal":"datum.value == 70 ? '#e06a6a' : datum.value == 30 ? '#6a6ad0' : '#222'"}}}}}},"y2":{"datum":119.6}}},
 {"data":{"values":[]},"mark":{"type":"square","opacity":1},"encoding":{"color":{"field":"k","type":"nominal","scale":{"domain":["RSI (14): 66.97"],"range":["#4a1a5a"]},"legend":{"title":null}}}}
]}
]
}
